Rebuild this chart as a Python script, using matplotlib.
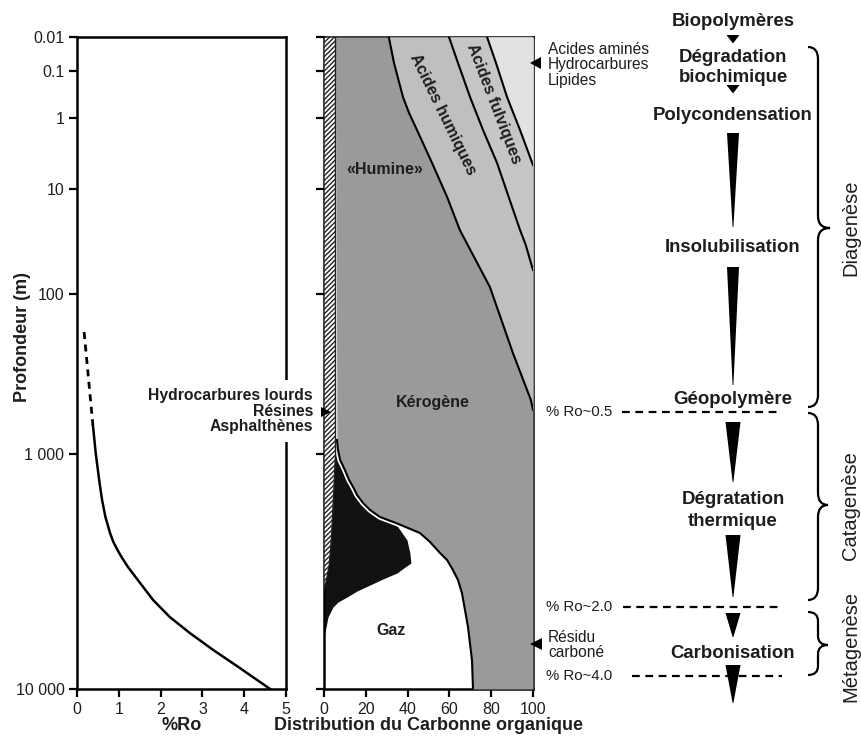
import numpy as np
import matplotlib
matplotlib.use('Agg')
import matplotlib.pyplot as plt
from matplotlib.path import Path
from matplotlib.patches import PathPatch, Polygon

plt.rcParams['font.family'] = ['Liberation Sans', 'DejaVu Sans']
plt.rcParams['hatch.linewidth'] = 1.0

# depth axis (ticks and their spacing as on the original figure)
depth_ticks = [0.01, 0.1, 1, 10, 100, 1000, 10000]
depth_labels = ['0.01', '0.1', '1', '10', '100', '1 000', '10 000']
depth_pos = [0, 34, 81, 152, 257, 417, 652]

# %Ro profile
ro_dash_depth = [173, 659]
ro_dash = [0.17, 0.38]
ro_depth = [659, 810, 1000, 1328, 1570, 1854, 2169, 2367, 2563, 2771, 3027, 3540, 4180, 4940,
            5780, 6825, 8060, 10000]
ro = [0.38, 0.415, 0.45, 0.54, 0.60, 0.68, 0.79, 0.87, 0.97, 1.08, 1.22, 1.51, 1.82, 2.22,
      2.7, 3.26, 3.86, 4.62]

# organic carbon distribution (% cumulated from the left)
humin_depth = [0.01, 0.058, 0.36, 0.78, 1.48, 4.3, 11.9, 24.6, 86, 234, 460, 530]
humin_edge = [31, 33.5, 37.8, 40.7, 44.5, 51.7, 58.9, 65, 79.4, 90.4, 99, 100]
humic_depth = [0.01, 0.058, 0.36, 1.48, 4.3, 24.6, 34, 59]
humic_edge = [59.8, 64.1, 69.9, 76.1, 82.8, 93.8, 96.5, 100]
fulvic_depth = [0.01, 0.058, 0.36, 1.48, 4.6]
fulvic_edge = [78, 82.3, 87.6, 93.8, 100]

kero_depth = [0.01, 817, 944, 1060, 1170, 1290, 1380, 1494, 1616, 1730, 1854, 1966, 2065,
              2169, 2367, 2638, 2827, 3117, 3437, 3902, 5447, 7530, 10000]
kero_edge = [5.5, 6.2, 6.7, 7.7, 10, 12, 13.9, 15.8, 18.7, 22, 26.8, 34.4, 40.2,
             45.9, 50.7, 55.5, 58.9, 61.7, 64.1, 66, 68.9, 70.8, 71.3]

oil_depth = [817, 1170, 1494, 1730, 1854, 1966, 2106, 2322, 2638, 2910, 3027, 3210, 3402,
             3610, 3828, 4060, 4264, 4480, 4940, 5447, 6006]
oil_edge = [6.2, 10, 15.8, 22, 26.8, 34, 36.4, 39.7, 41.1, 41.6, 38.8, 34.9, 28.2,
            22, 15.8, 11, 6.7, 4.3, 1.9, 1, 0]

heavy_depth = [0.01, 1000, 1570, 2322, 2968, 3437, 3790]
heavy_edge = [5.5, 5.5, 4.5, 3.5, 2.5, 1.2, 0]

logs = np.log10(depth_ticks)


def fwd(d):
    d = np.asarray(d, float)
    return np.interp(np.log10(np.clip(d, 1e-6, None)), logs, depth_pos)


def inv(p):
    return 10 ** np.interp(p, depth_pos, logs)


fig = plt.figure(figsize=(8.62, 7.38), dpi=100)
W, H = 862, 738
ink = '#1e1e1e'

ax1 = fig.add_axes([77 / W, 1 - 689 / H, 209 / W, 652 / H])
ax2 = fig.add_axes([324 / W, 1 - 689 / H, 209 / W, 652 / H])

for ax in (ax1, ax2):
    ax.set_yscale('function', functions=(fwd, inv))
    ax.set_ylim(10000, 0.01)
    ax.set_yticks(depth_ticks)
    for s in ax.spines.values():
        s.set_linewidth(1.8)
    ax.tick_params(direction='out', length=6, width=1.6, labelsize=11.5, pad=3, labelcolor=ink)
    ax.minorticks_off()

ax1.set_yticklabels(depth_labels)
ax2.set_yticklabels([])
ax1.set_xlim(0, 5)
ax1.set_xticks(range(6))
ax2.set_xlim(0, 100)
ax2.set_xticks(range(0, 101, 20))

ax1.set_ylabel('Profondeur (m)', fontsize=13, fontweight='bold', color=ink)
ax1.yaxis.set_label_coords(-0.22, 0.54)
ax1.set_xlabel('%Ro', fontsize=13, fontweight='bold', color=ink)
ax1.xaxis.set_label_coords(0.5, -0.043)
ax2.set_xlabel('Distribution du Carbonne organique', fontsize=13, fontweight='bold', color=ink)
ax2.xaxis.set_label_coords(0.5, -0.043)

# %Ro curve
ax1.plot(ro_dash, ro_dash_depth, color='k', lw=2, ls=(0, (2.5, 2)))
ax1.plot(ro, ro_depth, color='k', lw=1.8, solid_joinstyle='round')

# middle panel
ax2.fill_betweenx(oil_depth, 0, oil_edge, color='#111111', lw=0, zorder=1)
ax2.plot(kero_edge[1:], kero_depth[1:], color='white', lw=4, zorder=2)
ax2.fill_betweenx(kero_depth, kero_edge, 100, color='#9a9a9a', lw=0, zorder=3)
ax2.fill_betweenx(humin_depth, humin_edge, 100, color='#bfbfbf', lw=0, zorder=3.1)
ax2.fill_betweenx(humic_depth, humic_edge, 100, color='#c6c6c6', lw=0, zorder=3.2)
ax2.fill_betweenx(fulvic_depth, fulvic_edge, 100, color='#e2e2e2', lw=0, zorder=3.3)
for xs, ds in ((kero_edge[1:], kero_depth[1:]), (humin_edge, humin_depth),
               (humic_edge, humic_depth), (fulvic_edge, fulvic_depth)):
    ax2.plot(xs, ds, color='k', lw=1.5, zorder=4, solid_joinstyle='round')
ax2.fill_betweenx(heavy_depth, 0, heavy_edge, facecolor='white', edgecolor='#222222',
                  hatch='///////', lw=1.0, zorder=5)

ax2.text(29, 5.4, '«Humine»', fontsize=11.5, fontweight='bold', ha='center', va='center', color=ink, zorder=6)
ax2.text(52, 479, 'Kérogène', fontsize=11.5, fontweight='bold', ha='center', va='center', color=ink, zorder=6)
ax2.text(32, 5610, 'Gaz', fontsize=11.5, fontweight='bold', ha='center', va='center', color=ink, zorder=6)
ax2.text(57, 0.82, 'Acides humiques', fontsize=11.5, fontweight='bold', ha='center', va='center',
         rotation=-64, rotation_mode='anchor', color=ink, zorder=6)
ax2.text(81.3, 0.5, 'Acides fulviques', fontsize=11.5, fontweight='bold', ha='center', va='center',
         rotation=-69, rotation_mode='anchor', color=ink, zorder=6)

# overlay in pixel coordinates for the annotations
ov = fig.add_axes([0, 0, 1, 1], zorder=10)
ov.set_xlim(0, W)
ov.set_ylim(H, 0)
ov.axis('off')

ov.text(313, 411, 'Hydrocarbures lourds\nRésines\nAsphalthènes', ha='right', va='center',
        fontsize=11.3, fontweight='bold', linespacing=1.05, color=ink,
        bbox=dict(facecolor='white', edgecolor='none', pad=6))
ov.text(548, 65, 'Acides aminés\nHydrocarbures\nLipides', ha='left', va='center',
        fontsize=11.2, linespacing=1.05, color=ink)
ov.text(548, 645, 'Résidu\ncarboné', ha='left', va='center', fontsize=11.2, linespacing=1.05, color=ink)

for tri in ([(530, 63), (541, 57), (541, 69)],
            [(331, 412), (319, 406), (319, 418)],
            [(530, 644), (542, 638), (542, 650)]):
    ov.add_patch(Polygon(tri, closed=True, color='k', lw=0))

# %Ro limits
for y, lab, x0, x1 in [(412, '% Ro~0.5', 622, 778), (607, '% Ro~2.0', 623, 778), (676, '% Ro~4.0', 632, 782)]:
    ov.text(546, y, lab, ha='left', va='center', fontsize=10.8, color=ink)
    ov.plot([x0, x1], [y, y], color='k', lw=1.6, ls=(0, (3.5, 2.5)))

# processes column
xc = 733
steps = [('Biopolymères', 21), ('Dégradation', 57), ('biochimique', 78), ('Polycondensation', 115),
         ('Insolubilisation', 247), ('Géopolymère', 399), ('Dégratation', 500), ('thermique', 522),
         ('Carbonisation', 653)]
for lab, y in steps:
    ov.text(xc, y, lab, ha='center', va='center', fontsize=13.4, fontweight='bold', color=ink)

wedges = [(35, 43, 6.5), (85, 93, 6.5), (133, 227, 6), (267, 385, 6), (422, 482, 7.5),
          (535, 597, 7.5), (613, 637, 7.5), (665, 703, 7.5)]
for y0, y1, hw in wedges:
    ov.add_patch(Polygon([(xc - hw, y0), (xc + hw, y0), (xc + 0.4, y1), (xc - 0.4, y1)],
                         closed=True, color='k', lw=0, zorder=3))


def brace(x0, xm, yt, yb, xt, yc, r=12):
    verts = [(x0, yt), (xm, yt), (xm, yt + r), (xm, yc - r), (xm, yc), (xt, yc),
             (xm, yc), (xm, yc + r), (xm, yb - r), (xm, yb), (x0, yb)]
    codes = [Path.MOVETO, Path.CURVE3, Path.CURVE3, Path.LINETO, Path.CURVE3, Path.CURVE3,
             Path.CURVE3, Path.CURVE3, Path.LINETO, Path.CURVE3, Path.CURVE3]
    ov.add_patch(PathPatch(Path(verts, codes), fill=False, lw=1.6, color='k'))


brace(808, 818, 47, 407, 830, 228)
brace(808, 818, 413, 600, 828, 505)
brace(808, 818, 612, 675, 828, 645, r=9)

for lab, y in [('Diagenèse', 228), ('Catagenèse', 506), ('Métagenèse', 646)]:
    ov.text(851, y, lab, rotation=90, ha='center', va='center', fontsize=14.5, color=ink)

fig.savefig('out.png', dpi=100)
